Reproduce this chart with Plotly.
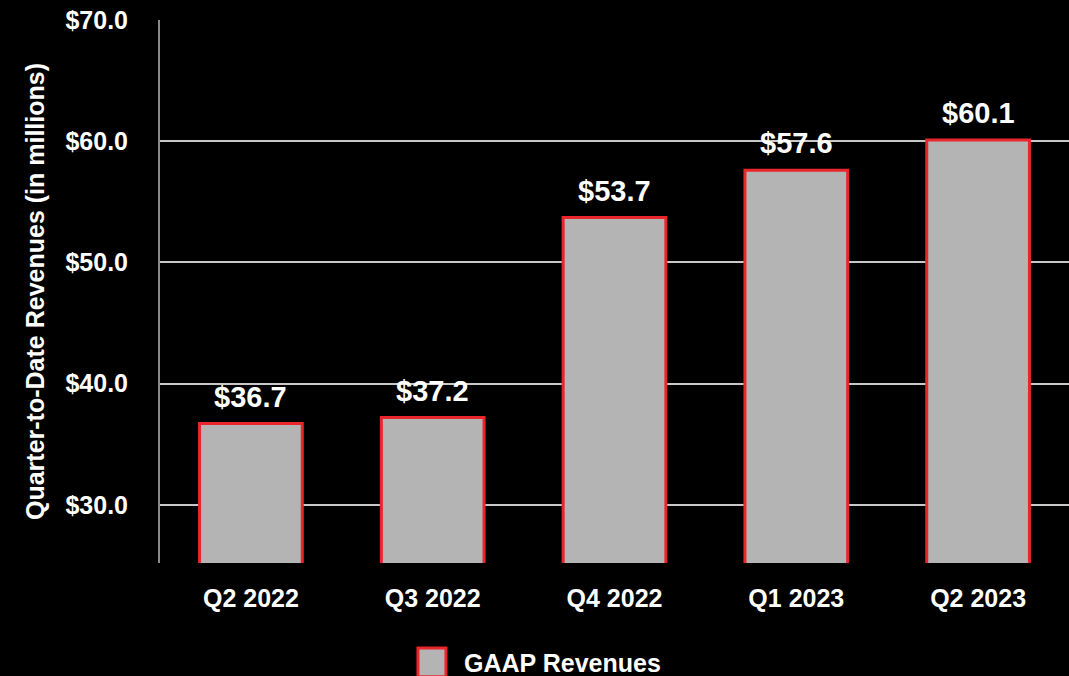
import plotly.graph_objects as go

quarters = ["Q2 2022", "Q3 2022", "Q4 2022", "Q1 2023", "Q2 2023"]
revenues = [36.7, 37.2, 53.7, 57.6, 60.1]
labels = ["$36.7", "$37.2", "$53.7", "$57.6", "$60.1"]
y_ticks = [30, 40, 50, 60, 70]
y_tick_text = ["$30.0", "$40.0", "$50.0", "$60.0", "$70.0"]
series_name = "GAAP Revenues"

FONT = "Liberation Sans, Arial, sans-serif"

fig = go.Figure()
fig.add_trace(go.Bar(
    x=quarters, y=revenues, name=series_name,
    marker=dict(color="#b4b4b4", line=dict(color="#e8262b", width=3)),
    showlegend=False,
))

annotations = [
    dict(x=q, y=v, text=t, xref="x", yref="y", showarrow=False,
         yanchor="bottom", yshift=9,
         font=dict(family=FONT, size=29, color="white", weight="bold"))
    for q, v, t in zip(quarters, revenues, labels)
]
annotations.append(dict(
    text=series_name, xref="paper", yref="paper",
    x=0.3322, y=-0.184, xanchor="left", yanchor="middle", showarrow=False,
    font=dict(family=FONT, size=25, color="white", weight="bold"),
))

fig.update_layout(
    width=1069, height=676,
    margin=dict(l=160, r=0, t=20, b=113),
    paper_bgcolor="black", plot_bgcolor="black",
    bargap=0.435,
    font=dict(family=FONT, color="white"),
    xaxis=dict(
        showgrid=False, showline=False, zeroline=False,
        tickfont=dict(family=FONT, size=25, color="white", weight="bold"),
        ticks="", ticklabelstandoff=18,
    ),
    yaxis=dict(
        range=[25.2, 70], tickvals=y_ticks, ticktext=y_tick_text,
        showgrid=True, gridcolor="#c8c8c8", gridwidth=2,
        showline=True, linecolor="#8a8a8a", linewidth=2,
        zeroline=False, ticks="", ticklabelstandoff=25,
        tickfont=dict(family=FONT, size=25, color="white", weight="bold"),
        title=dict(text="Quarter-to-Date Revenues (in millions)", standoff=14,
                   font=dict(family=FONT, size=25, color="white", weight="bold")),
    ),
    shapes=[dict(
        type="rect", xref="paper", yref="paper",
        x0=0.2838, x1=0.3146, y0=-0.2095, y1=-0.1565,
        fillcolor="#b4b4b4", line=dict(color="#e8262b", width=3),
    )],
    annotations=annotations,
)

fig.write_html("out.html")
